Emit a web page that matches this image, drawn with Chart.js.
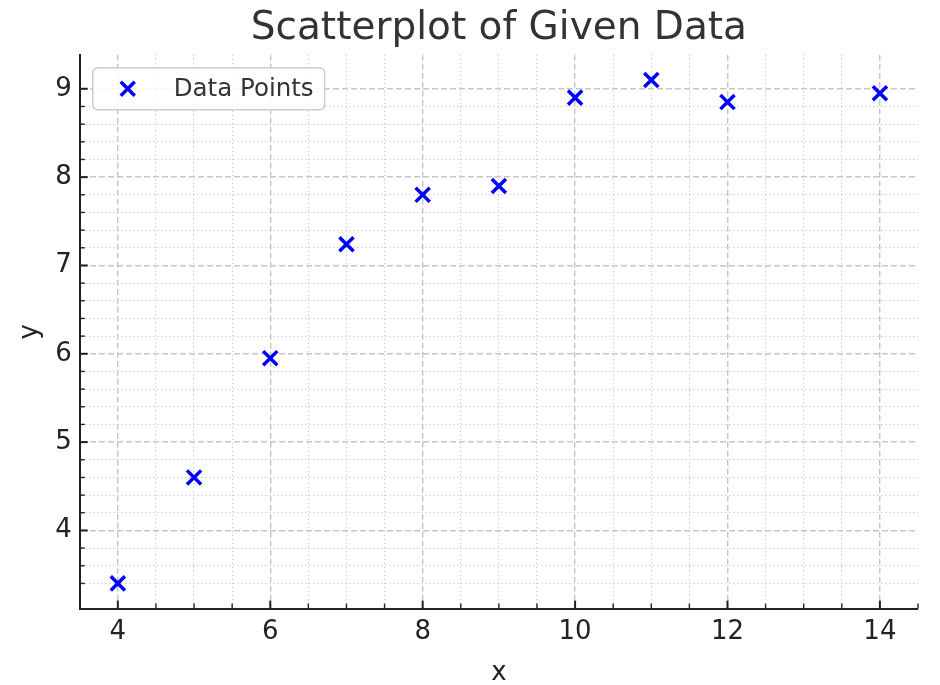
<!DOCTYPE html>
<html>
<head>
<meta charset="utf-8">
<script src="https://cdn.jsdelivr.net/npm/chart.js@4.4.1/dist/chart.umd.min.js"></script>
<style>
  html, body { margin: 0; padding: 0; background: #fff; }
  #wrap { width: 940px; height: 685px; }
</style>
</head>
<body>
<div id="wrap"><canvas id="chart"></canvas></div>
<script>
// data
const xValues = [4, 5, 6, 7, 8, 9, 10, 11, 12, 14];
const yValues = [3.4, 4.6, 5.95, 7.24, 7.8, 7.9, 8.9, 9.1, 8.85, 8.95];
const xTickLabels = [4, 6, 8, 10, 12, 14];
const yTickLabels = [4, 5, 6, 7, 8, 9];
const seriesLabel = 'Data Points';

const points = xValues.map((x, i) => ({ x: x, y: yValues[i] }));

Chart.defaults.font.family = "'DejaVu Sans', sans-serif";
Chart.defaults.color = '#222';

function isEdge(scale, v) {
    return Math.abs(v - scale.min) < 1e-6 || Math.abs(v - scale.max) < 1e-6;
}

function gridColor(majors) {
    return ctx => {
        if (!ctx.tick) return 'rgba(0,0,0,0)';
        if (isEdge(ctx.scale, ctx.tick.value)) return 'rgba(0,0,0,0)';
        return majors.includes(ctx.tick.value) ? '#c6c6c6' : '#cfcfcf';
    };
}
function gridWidth(majors) {
    return ctx => (ctx.tick && majors.includes(ctx.tick.value)) ? 1.4 : 1.1;
}
function gridDash(majors) {
    return ctx => {
        if (!ctx.tick) return [];
        return majors.includes(ctx.tick.value) ? [6, 3] : [1.5, 2.5];
    };
}

// inward tick marks on both spines
const innerTicks = {
    id: 'innerTicks',
    afterDatasetsDraw(chart) {
        const { ctx, chartArea, scales } = chart;
        ctx.save();
        ctx.strokeStyle = '#222';
        scales.x.ticks.forEach(t => {
            const px = scales.x.getPixelForValue(t.value);
            const major = xTickLabels.includes(t.value);
            ctx.lineWidth = major ? 2 : 1.4;
            ctx.beginPath();
            ctx.moveTo(px, chartArea.bottom);
            ctx.lineTo(px, chartArea.bottom - (major ? 8 : 5));
            ctx.stroke();
        });
        scales.y.ticks.forEach(t => {
            if (isEdge(scales.y, t.value)) return;
            const py = scales.y.getPixelForValue(t.value);
            const major = yTickLabels.includes(t.value);
            ctx.lineWidth = major ? 2 : 1.4;
            ctx.beginPath();
            ctx.moveTo(chartArea.left, py);
            ctx.lineTo(chartArea.left + (major ? 8 : 5), py);
            ctx.stroke();
        });
        ctx.restore();
    }
};

// legend box in the upper left corner of the plot
const boxLegend = {
    id: 'boxLegend',
    afterDraw(chart) {
        const { ctx, chartArea } = chart;
        const ds = chart.data.datasets[0];
        const x0 = chartArea.left + 13, y0 = chartArea.top + 13;
        ctx.save();
        ctx.font = "24.5px 'DejaVu Sans'";
        const tw = ctx.measureText(ds.label).width;
        const w = tw + 92, h = 42;
        ctx.beginPath();
        ctx.roundRect(x0, y0, w, h, 5);
        ctx.fillStyle = 'rgba(255,255,255,0.85)';
        ctx.fill();
        ctx.strokeStyle = '#cccccc';
        ctx.lineWidth = 1.5;
        ctx.stroke();
        const mx = x0 + 35, my = y0 + h / 2, r = 7;
        ctx.strokeStyle = ds.borderColor;
        ctx.lineWidth = 3.5;
        ctx.beginPath();
        ctx.moveTo(mx - r, my - r); ctx.lineTo(mx + r, my + r);
        ctx.moveTo(mx - r, my + r); ctx.lineTo(mx + r, my - r);
        ctx.stroke();
        ctx.fillStyle = '#333';
        ctx.textBaseline = 'middle';
        ctx.fillText(ds.label, x0 + 81, my + 1);
        ctx.restore();
    }
};

new Chart(document.getElementById('chart'), {
    type: 'scatter',
    data: {
        datasets: [{
            label: seriesLabel,
            data: points,
            pointStyle: 'crossRot',
            pointRadius: 10,
            pointHoverRadius: 10,
            borderWidth: 3.5,
            borderColor: '#0000ff',
            backgroundColor: '#0000ff'
        }]
    },
    options: {
        responsive: true,
        maintainAspectRatio: false,
        animation: false,
        layout: { padding: { top: 5, left: 15, right: 22, bottom: -4 } },
        plugins: {
            legend: { display: false },
            tooltip: { enabled: false },
            title: {
                display: true,
                text: 'Scatterplot of Given Data',
                fullSize: false,
                color: '#333',
                font: { size: 39, weight: 'normal' },
                padding: { top: 0, bottom: 3 }
            }
        },
        scales: {
            x: {
                type: 'linear',
                min: 3.5,
                max: 14.5,
                title: { display: true, text: 'x', font: { size: 26 }, padding: { top: 2, bottom: 0 } },
                ticks: {
                    stepSize: 0.5,
                    autoSkip: false,
                    maxRotation: 0,
                    padding: 8,
                    font: { size: 26 },
                    callback: v => xTickLabels.includes(v) ? String(v) : ''
                },
                grid: {
                    drawTicks: false,
                    color: gridColor(xTickLabels),
                    lineWidth: gridWidth(xTickLabels)
                },
                border: { display: true, color: '#222', width: 2, dash: gridDash(xTickLabels) }
            },
            y: {
                type: 'linear',
                min: 3.115,
                max: 9.385,
                title: { display: true, text: 'y', font: { size: 26 }, padding: { top: 0, bottom: 1 } },
                ticks: {
                    stepSize: 0.2,
                    autoSkip: false,
                    padding: 8,
                    font: { size: 26 },
                    callback: v => yTickLabels.includes(v) ? String(v) : ''
                },
                grid: {
                    drawTicks: false,
                    color: gridColor(yTickLabels),
                    lineWidth: gridWidth(yTickLabels)
                },
                border: { display: true, color: '#222', width: 2, dash: gridDash(yTickLabels) }
            }
        }
    },
    plugins: [innerTicks, boxLegend]
});
</script>
</body>
</html>
